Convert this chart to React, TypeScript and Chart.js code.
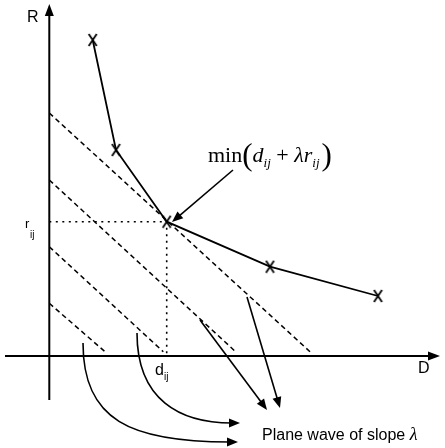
import React, { useEffect, useRef } from "react";
import { Chart, registerables } from "chart.js";

Chart.register(...registerables);

// Operating points (D, R)
const curveD = [4.34, 6.67, 11.74, 22.07, 32.87];
const curveR = [31.6, 20.6, 13.43, 8.93, 6.0];

// Plane waves (dashed): start R on the R axis, end D near the D axis
const waveStartR = [24.3, 17.6, 10.93, 5.27];
const waveEndD = [26.07, 18.74, 11.4, 5.57];
const waveEndR = [0.43, 0.33, 0.43, 0.43];

// Chosen point
const minD = 11.74;
const minR = 13.43;

// Axis extents
const xRange = [-4.93, 39.57];
const yRange = [-9.2, 35.6];
const axisX = [-4.43, 39.07];
const axisY = [-4.4, 35.2];

// Straight arrows [fromD, fromR, toD, toR]
const annoArrow = [18.37, 18.6, 12.27, 13.4];
const arrowA = [15.07, 3.6, 21.77, -5.4];
const arrowB = [19.77, 5.9, 23.07, -5.2];
// Curved arrows [p0D,p0R,c1D,c1R,c2D,c2R,p3D,p3R]
const curveOuter = [3.37, 1.3, 3.37, -6.4, 8.07, -8.6, 18.87, -8.6];
const curveInner = [8.77, 2.3, 8.77, -4.4, 13.07, -6.7, 19.07, -6.7];

const labelR = "R";
const labelD = "D";
const labelPlane = "Plane wave of slope ";

function makeXMark(): HTMLCanvasElement {
  const c = document.createElement("canvas");
  c.width = 11;
  c.height = 14;
  const g = c.getContext("2d")!;
  g.strokeStyle = "#000";
  g.lineWidth = 1.8;
  g.beginPath();
  g.moveTo(1.5, 1);
  g.lineTo(9.5, 13);
  g.moveTo(9.5, 1);
  g.lineTo(1.5, 13);
  g.stroke();
  return c;
}

export default function App() {
  const ref = useRef<HTMLCanvasElement | null>(null);
  useEffect(() => {
    document.body.style.margin = "0";
    const canvas = ref.current;
    if (!canvas) return;

    const waves = waveStartR.map((r, i) => ({
      data: [
        { x: 0, y: r },
        { x: waveEndD[i], y: waveEndR[i] },
      ],
      showLine: true,
      borderColor: "#000",
      borderWidth: 1.5,
      borderDash: [5, 3.5],
      pointRadius: 0,
    }));

    const overlay = {
      id: "overlay",
      afterDatasetsDraw(chart: any) {
        const ctx = chart.ctx as CanvasRenderingContext2D;
        const xs = chart.scales.x;
        const ys = chart.scales.y;
        const px = (v: number) => xs.getPixelForValue(v);
        const py = (v: number) => ys.getPixelForValue(v);
        ctx.save();
        ctx.strokeStyle = "#000";
        ctx.fillStyle = "#000";
        ctx.lineCap = "butt";

        const head = (tx: number, ty: number, ang: number, len = 11, w = 4.5) => {
          ctx.beginPath();
          ctx.moveTo(tx, ty);
          ctx.lineTo(tx - len * Math.cos(ang) + w * Math.sin(ang), ty - len * Math.sin(ang) - w * Math.cos(ang));
          ctx.lineTo(tx - len * Math.cos(ang) - w * Math.sin(ang), ty - len * Math.sin(ang) + w * Math.cos(ang));
          ctx.closePath();
          ctx.fill();
        };

        // axes
        ctx.lineWidth = 2;
        ctx.beginPath();
        ctx.moveTo(px(0), py(axisY[0]));
        ctx.lineTo(px(0), py(axisY[1]) + 8);
        ctx.moveTo(px(axisX[0]), py(0));
        ctx.lineTo(px(axisX[1]) - 8, py(0));
        ctx.stroke();
        head(px(0), py(axisY[1]), -Math.PI / 2, 12, 4.5);
        head(px(axisX[1]), py(0), 0, 12, 4.5);

        // straight arrows
        ctx.lineWidth = 1.6;
        const straight = (a: number[]) => {
          const x1 = px(a[0]), y1 = py(a[1]), x2 = px(a[2]), y2 = py(a[3]);
          const ang = Math.atan2(y2 - y1, x2 - x1);
          ctx.beginPath();
          ctx.moveTo(x1, y1);
          ctx.lineTo(x2 - 8 * Math.cos(ang), y2 - 8 * Math.sin(ang));
          ctx.stroke();
          head(x2, y2, ang);
        };
        straight(annoArrow);
        straight(arrowA);
        straight(arrowB);

        const curved = (c: number[]) => {
          const p = [0, 1, 2, 3].map((k) => [px(c[2 * k]), py(c[2 * k + 1])]);
          ctx.beginPath();
          ctx.moveTo(p[0][0], p[0][1]);
          ctx.bezierCurveTo(p[1][0], p[1][1], p[2][0], p[2][1], p[3][0] - 8, p[3][1]);
          ctx.stroke();
          const ang = Math.atan2(p[3][1] - p[2][1], p[3][0] - p[2][0]);
          head(p[3][0], p[3][1], ang);
        };
        curved(curveOuter);
        curved(curveInner);

        // labels
        ctx.textBaseline = "alphabetic";
        ctx.textAlign = "left";
        ctx.font = '16px "Liberation Sans", Arial, sans-serif';
        ctx.fillText(labelR, px(-2.23), py(33.4));
        ctx.fillText(labelD, px(36.87), py(-1.7));
        ctx.fillText("d", px(10.57), py(-1.9));
        ctx.font = '10px "Liberation Sans", Arial, sans-serif';
        ctx.fillText("ij", px(10.57) + 9, py(-1.9) + 5);
        ctx.font = '13px "Liberation Sans", Arial, sans-serif';
        ctx.fillText("r", px(-2.43), py(12.8));
        ctx.font = '10px "Liberation Sans", Arial, sans-serif';
        ctx.fillText("ij", px(-2.43) + 5, py(12.8) + 10);

        // plane wave label
        ctx.font = '16px "Liberation Sans", Arial, sans-serif';
        const bx = px(21.27), by = py(-8.4);
        ctx.fillText(labelPlane, bx, by);
        const w0 = ctx.measureText(labelPlane).width;
        ctx.font = 'italic 18px "Liberation Serif", "Times New Roman", serif';
        ctx.fillText("λ", bx + w0, by);

        // min(d_ij + λ r_ij)
        let x = px(15.87);
        const y = py(19.4);
        const seg = (t: string, font: string, dy = 0) => {
          ctx.font = font;
          ctx.fillText(t, x, y + dy);
          x += ctx.measureText(t).width;
        };
        const serif = '"Liberation Serif", "Times New Roman", serif';
        seg("min", `22px ${serif}`);
        seg("(", `31px ${serif}`, 3);
        seg("d", `italic 22px ${serif}`);
        seg("ij", `italic 13px ${serif}`, 5);
        seg(" + ", `22px ${serif}`);
        seg("λ", `italic 22px ${serif}`);
        seg("r", `italic 22px ${serif}`);
        seg("ij", `italic 13px ${serif}`, 5);
        x += 2;
        seg(")", `31px ${serif}`, 3);

        ctx.restore();
      },
    };

    const chart = new Chart(canvas, {
      type: "scatter",
      data: {
        datasets: [
          {
            data: curveD.map((d, i) => ({ x: d, y: curveR[i] })),
            showLine: true,
            borderColor: "#000",
            borderWidth: 1.8,
            pointStyle: makeXMark(),
            pointRadius: 6,
          },
          ...waves,
          {
            data: [
              { x: 0, y: minR },
              { x: minD, y: minR },
              { x: minD, y: 0 },
            ],
            showLine: true,
            borderColor: "#000",
            borderWidth: 1.6,
            borderDash: [2, 4.5],
            pointRadius: 0,
          },
        ] as any,
      },
      options: {
        animation: false,
        responsive: false,
        layout: { padding: 0, autoPadding: false },
        plugins: { legend: { display: false }, tooltip: { enabled: false } },
        scales: {
          x: { type: "linear", min: xRange[0], max: xRange[1], display: false },
          y: { type: "linear", min: yRange[0], max: yRange[1], display: false },
        },
      },
      plugins: [overlay],
    });
    return () => chart.destroy();
  }, []);
  return <canvas ref={ref} width={445} height={448} style={{ display: "block" }} />;
}
